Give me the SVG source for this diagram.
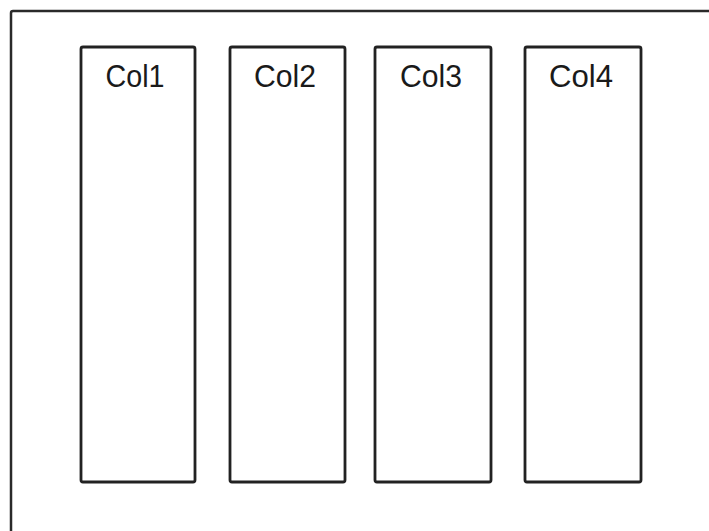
<svg xmlns="http://www.w3.org/2000/svg" width="709" height="531" viewBox="0 0 709 531">
<style>
.frame{fill:none;stroke:#2a2a2a;stroke-width:2.5}
.col{fill:#fff;stroke:#222;stroke-width:2.8}
.lbl{font-family:"Liberation Sans",Arial,sans-serif;font-size:32px;fill:#1a1a1a;text-anchor:middle}
</style>
<rect width="709" height="531" fill="#fff"/>
<rect class="frame" x="11" y="11" width="720" height="540" rx="2"/>
<g id="col1"><rect class="col" x="81" y="47" width="114" height="435" rx="2"/><text class="lbl" x="135" y="87" textLength="59" lengthAdjust="spacingAndGlyphs">Col1</text></g>
<g id="col2"><rect class="col" x="230" y="47" width="115" height="435" rx="2"/><text class="lbl" x="285" y="87" textLength="62" lengthAdjust="spacingAndGlyphs">Col2</text></g>
<g id="col3"><rect class="col" x="375" y="47" width="116" height="435" rx="2"/><text class="lbl" x="431" y="87" textLength="62" lengthAdjust="spacingAndGlyphs">Col3</text></g>
<g id="col4"><rect class="col" x="525" y="47" width="116" height="435" rx="2"/><text class="lbl" x="581" y="87" textLength="64" lengthAdjust="spacingAndGlyphs">Col4</text></g>
<g id="connectors"/>
</svg>
